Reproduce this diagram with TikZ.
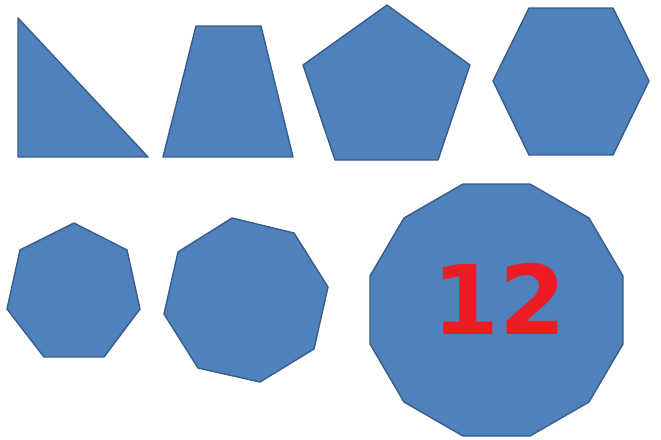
\documentclass[tikz,border=0pt]{standalone}
\usepackage{fontspec}
\newfontfamily\numfont{DejaVu Sans}
\definecolor{shapefill}{HTML}{4F81BD}
\definecolor{shapeline}{HTML}{385D8A}
\definecolor{numred}{HTML}{ED1C24}
\begin{document}
\begin{tikzpicture}[x=1pt,y=-1pt,
  poly/.style={fill=shapefill,draw=shapeline,line width=1.4pt,line join=round}]
\useasboundingbox (0,0) rectangle (661,439);
% triangle
\draw[poly] (18,18) -- (18,157) -- (148,157) -- cycle;
% trapezoid
\draw[poly] (196,26) -- (261,26) -- (293,157) -- (163,157) -- cycle;
% pentagon
\draw[poly] (387,5) -- (470,65) -- (438,160) -- (335,160) -- (303,65) -- cycle;
% hexagon
\draw[poly] (529,8) -- (613,8) -- (649,81) -- (613,155) -- (529,155) -- (493,81) -- cycle;
% heptagon
\draw[poly] (74,223) -- (127,250) -- (140,309) -- (104,357) -- (44,357) -- (7,309) -- (20,250) -- cycle;
% octagon
\draw[poly] (232,218) -- (294,233) -- (328,287) -- (314,349) -- (260,382) -- (198,368) -- (164,314) -- (178,252) -- cycle;
% dodecagon
\draw[poly] (463,184) -- (530,184) -- (589,218) -- (623,276) -- (623,344) -- (589,402) -- (530,436) -- (463,436) -- (404,402) -- (370,344) -- (370,276) -- (404,218) -- cycle;
\node[font=\numfont\bfseries\fontsize{96}{96}\selectfont,text=numred,inner sep=0pt] (num) at (499,299) {12};
\end{tikzpicture}
\end{document}
